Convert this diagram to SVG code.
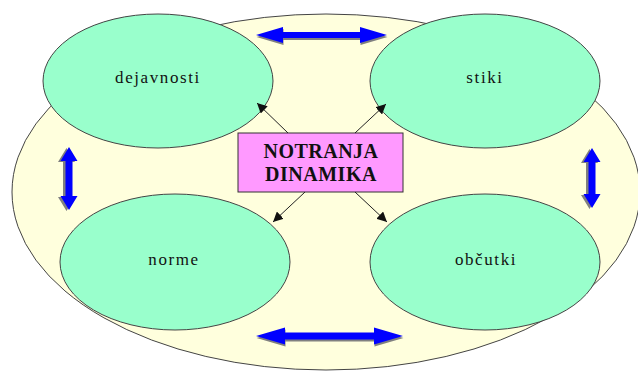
<svg xmlns="http://www.w3.org/2000/svg" width="638" height="372" viewBox="0 0 638 372">
  <style>
    .outer { fill: #FFFFDD; stroke: #444; stroke-width: 1; }
    .node { fill: #99FFCC; stroke: #444; stroke-width: 1; }
    .core { fill: #FF99FF; stroke: #333; stroke-width: 1; }
    .lbl { font-family: "Liberation Serif", "Times New Roman", serif; font-size: 17px; letter-spacing: 1.6px; fill: #111; text-anchor: middle; }
    .title { font-family: "Liberation Serif", "Times New Roman", serif; font-size: 20px; font-weight: bold; letter-spacing: 0.5px; fill: #111; text-anchor: middle; }
    .link { stroke: #222; stroke-width: 1; fill: none; marker-end: url(#tip); }
    .dbl { fill: #0000FF; }
    .dbl-shadow { fill: #808080; }
  </style>
  <defs>
    <marker id="tip" viewBox="0 0 10 10" refX="10" refY="5" markerWidth="10" markerHeight="10" markerUnits="userSpaceOnUse" orient="auto">
      <path d="M0,0 L10,5 L0,10 Z" fill="#111"/>
    </marker>
  </defs>

  <!-- background field -->
  <ellipse id="field" class="outer" cx="326" cy="192" rx="314" ry="178"/>

  <g id="dejavnosti">
    <ellipse class="node" cx="158" cy="81" rx="115" ry="67"/>
    <text class="lbl" x="158" y="83">dejavnosti</text>
  </g>
  <g id="stiki">
    <ellipse class="node" cx="485" cy="81" rx="115" ry="67"/>
    <text class="lbl" x="485" y="83">stiki</text>
  </g>
  <g id="norme">
    <ellipse class="node" cx="175" cy="262" rx="115" ry="68"/>
    <text class="lbl" x="174" y="265">norme</text>
  </g>
  <g id="obcutki">
    <ellipse class="node" cx="485" cy="262" rx="115" ry="68"/>
    <text class="lbl" x="486" y="265">občutki</text>
  </g>

  <g id="notranja-dinamika">
    <rect class="core" x="238" y="133" width="165" height="59"/>
    <text class="title" x="321" y="158">NOTRANJA</text>
    <text class="title" x="321" y="181">DINAMIKA</text>
  </g>

  <g id="connectors">
    <!-- centre to the four nodes -->
    <line class="link" x1="288" y1="133" x2="257" y2="103"/>
    <line class="link" x1="355" y1="133" x2="386" y2="104"/>
    <line class="link" x1="305" y1="192" x2="273" y2="222"/>
    <line class="link" x1="355" y1="192" x2="387" y2="222"/>

    <!-- two-way block arrows between neighbouring nodes -->
    <g transform="translate(0.5,2)">
      <polygon class="dbl-shadow" points="256,35 283,27 283,32 360,32 360,27 387,35 360,43 360,38 283,38 283,43"/>
    </g>
    <polygon class="dbl" points="256,35 283,27 283,32 360,32 360,27 387,35 360,43 360,38 283,38 283,43"/>

    <g transform="translate(0.5,2)">
      <polygon class="dbl-shadow" points="256,336 285,327.5 285,332.5 374,332.5 374,327.5 403,336 374,344.5 374,339.5 285,339.5 285,344.5"/>
    </g>
    <polygon class="dbl" points="256,336 285,327.5 285,332.5 374,332.5 374,327.5 403,336 374,344.5 374,339.5 285,339.5 285,344.5"/>

    <g transform="translate(-2.5,1)">
      <polygon class="dbl-shadow" points="69,147 77.5,161 72.5,161 72.5,196 77.5,196 69,210 60.5,196 65.5,196 65.5,161 60.5,161"/>
    </g>
    <polygon class="dbl" points="69,147 77.5,161 72.5,161 72.5,196 77.5,196 69,210 60.5,196 65.5,196 65.5,161 60.5,161"/>

    <g transform="translate(-2.5,1)">
      <polygon class="dbl-shadow" points="592,148 600.5,162 595.5,162 595.5,194 600.5,194 592,208 583.5,194 588.5,194 588.5,162 583.5,162"/>
    </g>
    <polygon class="dbl" points="592,148 600.5,162 595.5,162 595.5,194 600.5,194 592,208 583.5,194 588.5,194 588.5,162 583.5,162"/>
  </g>
</svg>
